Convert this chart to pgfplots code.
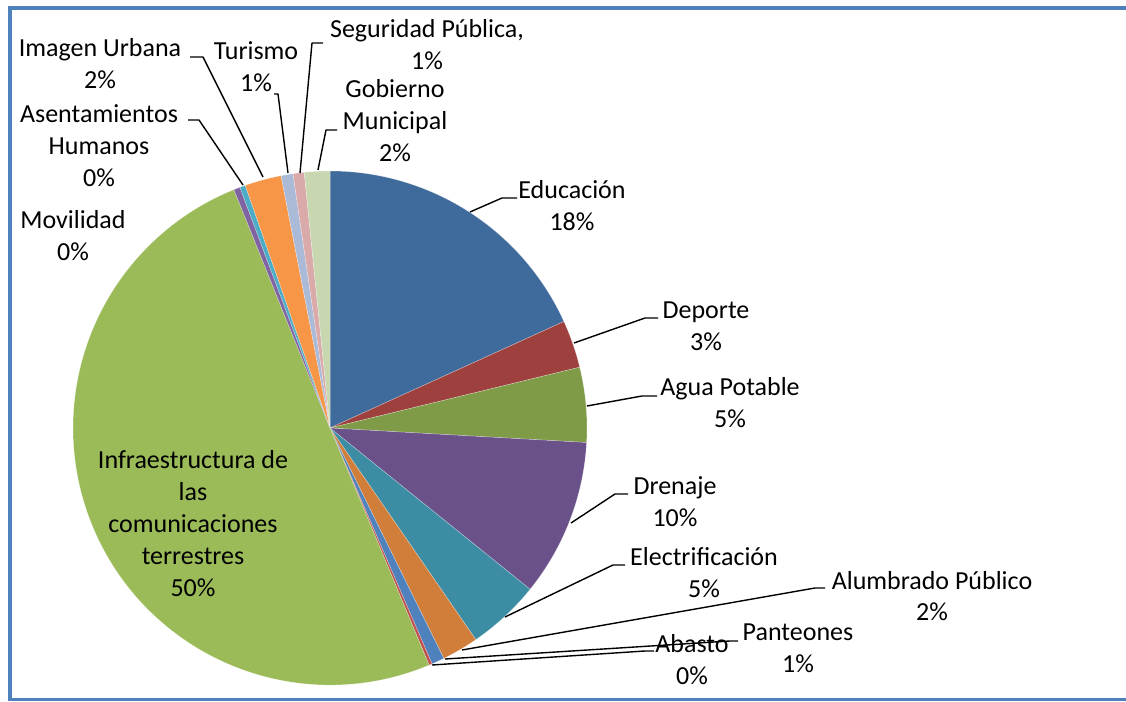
\documentclass[border=0pt]{standalone}
\usepackage{pgfplots}
\pgfplotsset{compat=1.18}
\usepackage{fontspec}
\setmainfont{Carlito}

% slice colours
\definecolor{cEdu}{HTML}{3F6A9C}
\definecolor{cDep}{HTML}{9E413E}
\definecolor{cAgu}{HTML}{7F9B48}
\definecolor{cDre}{HTML}{6A518A}
\definecolor{cEle}{HTML}{3C8DA3}
\definecolor{cAlu}{HTML}{D07E3A}
\definecolor{cPan}{HTML}{4F81BD}
\definecolor{cAba}{HTML}{C0504D}
\definecolor{cInf}{HTML}{9BBB59}
\definecolor{cMov}{HTML}{8064A2}
\definecolor{cAse}{HTML}{4BACC6}
\definecolor{cIma}{HTML}{F79646}
\definecolor{cTur}{HTML}{AABAD7}
\definecolor{cSeg}{HTML}{D9AAA9}
\definecolor{cGob}{HTML}{C9D7B0}
\definecolor{borderblue}{HTML}{4F81BD}

% pie centre and radius (axis units = pt)
\def\cx{330}\def\cy{273}\def\R{257}
\gdef\cumval{0}
% \slice{share in percent}{colour}: draws the next wedge clockwise from 12 o'clock
\newcommand\slice[2]{%
  \pgfmathsetmacro\angA{90-3.6*\cumval}%
  \pgfmathsetmacro\newcum{\cumval+#1}%
  \global\let\cumval\newcum
  \pgfmathsetmacro\angB{90-3.6*\cumval}%
  \pgfmathsetmacro\sx{\cx+\R*cos(\angA)}%
  \pgfmathsetmacro\sy{\cy+\R*sin(\angA)}%
  \edef\tmp{\noexpand\fill[#2, draw=white, draw opacity=0.4, line width=0.5pt]
    (axis cs:\cx,\cy) -- (axis cs:\sx,\sy)
    arc[start angle=\angA, end angle=\angB, radius=\R pt] -- cycle;}%
  \tmp}

% multi-line labels: the base anchor sits on the last line
\tikzset{
  lbl/.style={font=\fontsize{26}{32}\selectfont, align=center, anchor=base, inner sep=0pt},
  leader/.style={draw=black, line width=1.4pt, line join=round}
}

\begin{document}
\begin{tikzpicture}
\useasboundingbox (0,0) rectangle (1126pt,701pt);
% chart border: left, top and bottom edges; the right edge runs off the page
\fill[borderblue] (7.5pt,691pt) rectangle (1126pt,695pt);
\fill[borderblue] (7.5pt,0pt) rectangle (1126pt,3.5pt);
\fill[borderblue] (7.5pt,0pt) rectangle (11.5pt,695pt);
\begin{axis}[at={(0,0)}, anchor=origin,
  x=1pt, y=1pt, xmin=0, xmax=1126, ymin=0, ymax=701,
  hide axis, clip=false]

% wedges (percent of total)
\slice{18.2}{cEdu}  % Educación
\slice{3.0}{cDep}   % Deporte
\slice{4.7}{cAgu}   % Agua Potable
\slice{9.9}{cDre}   % Drenaje
\slice{4.6}{cEle}   % Electrificación
\slice{2.3}{cAlu}   % Alumbrado Público
\slice{0.8}{cPan}   % Panteones
\slice{0.2}{cAba}   % Abasto
\slice{50.2}{cInf}  % Infraestructura de las comunicaciones terrestres
\slice{0.4}{cMov}   % Movilidad
\slice{0.35}{cAse}  % Asentamientos Humanos
\slice{2.3}{cIma}   % Imagen Urbana
\slice{0.75}{cTur}  % Turismo
\slice{0.7}{cSeg}   % Seguridad Pública
\slice{1.6}{cGob}   % Gobierno Municipal

% leader lines
\draw[leader] (axis cs:470,489) -- (axis cs:502,503) -- (axis cs:517,503);
\draw[leader] (axis cs:574,358) -- (axis cs:645,383) -- (axis cs:658,383);
\draw[leader] (axis cs:587,295) -- (axis cs:642,305) -- (axis cs:657,305);
\draw[leader] (axis cs:571,178) -- (axis cs:615,207) -- (axis cs:628,207);
\draw[leader] (axis cs:505,84) -- (axis cs:613,136) -- (axis cs:625,136);
\draw[leader] (axis cs:462,51) -- (axis cs:815,113) -- (axis cs:825,113);
\draw[leader] (axis cs:445,42) -- (axis cs:730,60) -- (axis cs:738,60);
\draw[leader] (axis cs:432,36) -- (axis cs:645,50) -- (axis cs:654,50);
\draw[leader] (axis cs:318,531) -- (axis cs:326,571) -- (axis cs:337,571);
\draw[leader] (axis cs:300,528) -- (axis cs:312,658) -- (axis cs:323,658);
\draw[leader] (axis cs:288,528) -- (axis cs:278,607) -- (axis cs:274,607);
\draw[leader] (axis cs:263,524) -- (axis cs:203,644) -- (axis cs:190,644);
\draw[leader] (axis cs:243,516) -- (axis cs:199,581) -- (axis cs:188,581);

% data labels
\node[lbl] at (axis cs:572,470) {Educación\\18\%};
\node[lbl] at (axis cs:706,350) {Deporte\\3\%};
\node[lbl] at (axis cs:730,273) {Agua Potable\\5\%};
\node[lbl] at (axis cs:675,174) {Drenaje\\10\%};
\node[lbl] at (axis cs:704,103) {Electrificación\\5\%};
\node[lbl] at (axis cs:932,80) {Alumbrado Público\\2\%};
\node[lbl] at (axis cs:798,29) {Panteones\\1\%};
\node[lbl] at (axis cs:692,17) {Abasto\\0\%};
\node[lbl] at (axis cs:193,104) {Infraestructura de\\las\\comunicaciones\\terrestres\\50\%};
\node[lbl] at (axis cs:73,440) {Movilidad\\0\%};
\node[lbl] at (axis cs:99,514) {Asentamientos\\Humanos\\0\%};
\node[lbl] at (axis cs:100,612) {Imagen Urbana\\2\%};
\node[lbl] at (axis cs:256,609) {Turismo\\1\%};
\node[lbl] at (axis cs:427,631) {Seguridad Pública,\\1\%};
\node[lbl] at (axis cs:395,539) {Gobierno\\Municipal\\2\%};
\end{axis}
\end{tikzpicture}
\end{document}
